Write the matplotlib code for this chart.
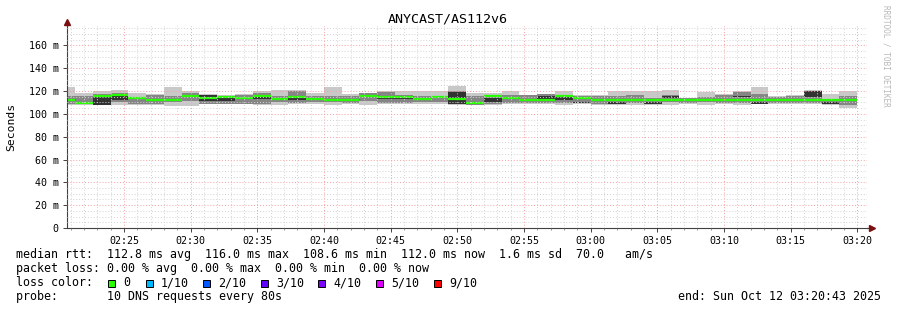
import matplotlib
matplotlib.use("Agg")
import matplotlib.pyplot as plt
import matplotlib.dates as mdates
from matplotlib.ticker import MultipleLocator, FuncFormatter
from matplotlib.patches import Rectangle
from matplotlib.lines import Line2D
import numpy as np
import pandas as pd

# ---------------- data ----------------
title = "ANYCAST/AS112v6"
t_start = "2025-10-12 02:20:43"
t_end = "2025-10-12 03:20:43"
step_origin = "2025-10-12 02:19:59"
step_seconds = 80
n_steps = 45

# smoke bands (ms): outer = min..max, mid = lo..hi, inner = in_lo..in_hi
ping_min   = [108.0,108.0,107.5,107.5,107.5,107.5,107.0,107.0,108.4,108.4,108.4,107.5,107.5,109.0,108.5,
              107.5,109.0,107.5,109.0,108.4,108.4,108.4,108.0,107.5,107.5,108.4,108.4,108.4,107.5,108.4,
              107.5,107.5,107.5,107.5,107.5,108.4,107.5,108.4,107.5,108.4,108.4,108.4,108.5,107.5,105.5]
ping_lo    = [108.5,108.5,107.5,110.0,109.0,109.0,110.5,111.0,109.0,109.0,109.0,109.0,110.0,109.5,110.0,
              110.0,109.5,111.0,109.5,109.5,110.0,110.0,108.5,108.0,109.0,109.5,109.5,109.5,109.5,109.5,
              109.0,108.4,109.5,109.0,110.0,109.5,110.0,109.5,109.5,108.4,109.5,109.5,109.5,109.0,107.5]
ping_in_lo = [111.8,109.2,107.8,112.0,113.5,112.0,112.0,114.8,111.5,111.0,113.5,113.0,113.0,112.5,113.0,
              112.0,112.0,115.5,113.0,113.0,113.0,114.0,109.0,109.2,110.5,115.5,112.0,112.5,112.0,109.8,
              112.0,108.4,112.0,109.0,114.0,112.0,112.0,112.0,114.5,108.4,112.0,112.0,114.5,109.0,112.0]
ping_in_hi = [111.8,109.2,114.5,115.5,113.5,112.0,112.0,115.0,116.3,114.0,113.5,114.5,113.0,114.5,113.0,
              112.0,112.0,115.5,114.5,114.5,113.0,114.8,119.5,109.2,114.0,116.0,112.0,116.0,114.5,110.2,
              112.0,110.5,112.0,110.3,116.0,112.0,112.0,112.0,116.0,110.5,112.0,112.0,120.0,110.5,112.0]
ping_hi    = [116.0,116.0,117.0,118.0,115.0,116.3,116.0,118.0,116.5,116.0,116.3,118.0,116.0,120.0,116.0,
              115.5,116.0,118.0,119.5,116.5,116.0,116.0,120.0,115.5,116.0,116.5,116.3,117.0,116.0,116.0,
              116.0,116.0,116.3,114.0,116.5,113.5,115.0,116.5,119.5,117.5,115.0,116.0,120.0,112.5,116.0]
ping_max   = [123.5,118.0,120.0,121.2,118.0,117.0,123.5,120.0,117.5,116.5,117.0,120.0,121.0,120.5,118.0,
              123.5,117.0,118.5,120.0,120.0,120.0,120.0,124.0,118.0,118.0,120.0,116.5,117.0,120.0,116.5,
              116.5,120.0,120.0,120.0,121.2,114.0,119.0,117.0,120.0,123.5,115.5,116.5,120.5,117.5,120.0]
median_rtt = [111.8,109.2,115.3,116.5,113.5,112.0,112.0,115.5,113.5,115.0,113.5,115.3,113.0,115.0,113.0,
              112.0,112.0,115.5,115.0,115.0,113.0,115.0,113.0,109.2,115.5,113.5,112.0,112.0,115.5,113.5,
              112.0,112.0,112.0,112.0,112.0,112.0,112.0,112.0,112.0,112.0,112.0,112.0,112.0,112.0,112.0]

loss_labels = ["0", "1/10", "2/10", "3/10", "4/10", "5/10", "9/10"]
loss_colors = ["#26ff00", "#00b8ff", "#0059ff", "#5e00ff", "#7e00ff", "#dd00ff", "#ff0000"]

line_rtt = "median rtt:  112.8 ms avg  116.0 ms max  108.6 ms min  112.0 ms now  1.6 ms sd  70.0   am/s"
line_loss = "packet loss: 0.00 % avg  0.00 % max  0.00 % min  0.00 % now"
line_probe = "probe:       10 DNS requests every 80s"
line_end = "end: Sun Oct 12 03:20:43 2025"
side_text = "RRDTOOL / TOBI OETIKER"

# ---------------- figure ----------------
W, H = 897, 310
fig = plt.figure(figsize=(W / 100, H / 100), dpi=100, facecolor="white")
MONO = "DejaVu Sans Mono"


def fx(x):
    return x / W


def fy(y):
    return 1 - y / H


ax_l, ax_r, ax_b, ax_t = 67, 867, 228, 26
ax = fig.add_axes([fx(ax_l), fy(ax_b), (ax_r - ax_l) / W, (ax_b - ax_t) / H])
ax.set_facecolor("white")

edges = pd.date_range(step_origin, periods=n_steps + 1, freq=f"{step_seconds}s")
edges = edges.where(edges > pd.Timestamp(t_start), pd.Timestamp(t_start))
en = mdates.date2num(edges.to_pydatetime())
x0 = en[:-1]
wd = np.diff(en)

mn = np.array(ping_min); lo = np.array(ping_lo); il = np.array(ping_in_lo)
ih = np.array(ping_in_hi); hi = np.array(ping_hi); mx = np.array(ping_max)
med = np.array(median_rtt)

ax.bar(x0, mx - mn, width=wd, bottom=mn, align="edge", color="#c8c8c8", linewidth=0, zorder=1)
ax.bar(x0, hi - lo, width=wd, bottom=lo, align="edge", color="#858585", linewidth=0, zorder=1.1)
ax.bar(x0, ih - il, width=wd, bottom=il, align="edge", color="#323232", linewidth=0, zorder=1.2)
ax.hlines(med, x0, x0 + wd, colors=loss_colors[0], linewidth=1.6, zorder=2)

ax.set_xlim(mdates.date2num(pd.Timestamp(t_start)), mdates.date2num(pd.Timestamp(t_end)))
ax.set_ylim(0, 177)

ax.xaxis.set_major_locator(mdates.MinuteLocator(byminute=range(0, 60, 5)))
ax.xaxis.set_minor_locator(mdates.MinuteLocator())
ax.xaxis.set_major_formatter(mdates.DateFormatter("%H:%M"))
ax.yaxis.set_major_locator(MultipleLocator(20))
ax.yaxis.set_minor_locator(MultipleLocator(5))
ax.yaxis.set_major_formatter(FuncFormatter(lambda v, p: "0" if v == 0 else f"{int(round(v))} m"))

ax.set_axisbelow(False)
ax.grid(which="minor", color="#d2d2d2", linestyle=(0, (1, 2)), linewidth=0.7, zorder=2.5)
ax.grid(which="major", color="#f5a0a0", linestyle=(0, (1, 2)), linewidth=0.7, zorder=2.6)

for s in ["top", "right"]:
    ax.spines[s].set_visible(False)
for s in ["left", "bottom"]:
    ax.spines[s].set_color("#404040")
    ax.spines[s].set_linewidth(0.8)

ax.tick_params(which="major", length=3, width=0.7, color="#404040", labelsize=7.2, pad=3)
ax.tick_params(axis="x", which="minor", length=1.5, width=0.6, color="#808080")
ax.tick_params(axis="y", which="minor", length=0)
for lab in ax.get_xticklabels() + ax.get_yticklabels():
    lab.set_fontfamily(MONO)

# axis arrows
fig.add_artist(Line2D([fx(ax_r), fx(871)], [fy(ax_b), fy(ax_b)], color="#404040", lw=0.8))
fig.add_artist(Line2D([fx(ax_l), fx(ax_l)], [fy(ax_t), fy(22)], color="#404040", lw=0.8))
fig.add_artist(Line2D([fx(872)], [fy(ax_b)], marker=">", ms=4, color="#7a1010", lw=0))
fig.add_artist(Line2D([fx(ax_l)], [fy(22)], marker="^", ms=4, color="#7a1010", lw=0))

# texts
fig.text(fx(448), fy(19), title, ha="center", va="center", fontsize=9.6, family=MONO)
fig.text(fx(11), fy(127), "Seconds", ha="center", va="center", rotation=90, fontsize=8.2, family=MONO)
fig.text(fx(886), fy(5), side_text, ha="center", va="top", rotation=270, fontsize=5.6,
         family=MONO, color="#b8b8b8")

fs = 8.4
fig.text(fx(16), fy(254.3), line_rtt, ha="left", va="center", fontsize=fs, family=MONO)
fig.text(fx(16), fy(268.3), line_loss, ha="left", va="center", fontsize=fs, family=MONO)
fig.text(fx(16), fy(282.7), "loss color:", ha="left", va="center", fontsize=fs, family=MONO)
sq_x = [108, 146, 203, 261, 318, 376, 434]
for i, (lab, col) in enumerate(zip(loss_labels, loss_colors)):
    fig.add_artist(Rectangle((fx(sq_x[i]), fy(286.5)), 7 / W, 7 / H, facecolor=col,
                             edgecolor="black", linewidth=0.7))
    fig.text(fx(sq_x[i] + 15), fy(282.7), lab, ha="left", va="center", fontsize=fs, family=MONO)
fig.text(fx(16), fy(296.7), line_probe, ha="left", va="center", fontsize=fs, family=MONO)
fig.text(fx(881), fy(296.7), line_end, ha="right", va="center", fontsize=fs, family=MONO)

fig.savefig("out.png", dpi=100, facecolor="white")
